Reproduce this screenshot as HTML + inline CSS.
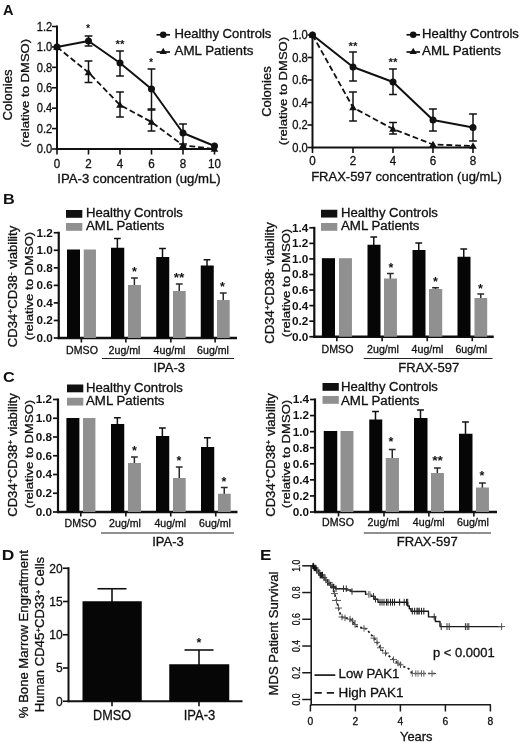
<!DOCTYPE html>
<html><head><meta charset="utf-8"><title>Figure</title>
<style>html,body{margin:0;padding:0;background:#fff;}svg{display:block;filter:blur(0.3px)}text{font-family:"Liberation Sans",sans-serif;}</style></head><body>
<svg width="520" height="743" viewBox="0 0 520 743">
<rect width="520" height="743" fill="#fff"/>
<text transform="translate(3 14.8)" font-size="14.5" text-anchor="start" font-weight="bold" fill="#111">A</text>
<line x1="57" y1="25.5" x2="57" y2="150" stroke="#111" stroke-width="2.0" stroke-linecap="butt"/>
<line x1="56" y1="149" x2="215.5" y2="149" stroke="#111" stroke-width="2.0" stroke-linecap="butt"/>
<line x1="52" y1="149.0" x2="57" y2="149.0" stroke="#111" stroke-width="1.6" stroke-linecap="butt"/>
<text transform="translate(52.3 153.32) scale(0.9300 1.0000)" font-size="12" text-anchor="end" fill="#111" stroke="#111" stroke-width="0.3">0.0</text>
<line x1="52" y1="128.58333333333331" x2="57" y2="128.58333333333331" stroke="#111" stroke-width="1.6" stroke-linecap="butt"/>
<text transform="translate(52.3 132.9033333333333) scale(0.9300 1.0000)" font-size="12" text-anchor="end" fill="#111" stroke="#111" stroke-width="0.3">0.2</text>
<line x1="52" y1="108.16666666666666" x2="57" y2="108.16666666666666" stroke="#111" stroke-width="1.6" stroke-linecap="butt"/>
<text transform="translate(52.3 112.48666666666665) scale(0.9300 1.0000)" font-size="12" text-anchor="end" fill="#111" stroke="#111" stroke-width="0.3">0.4</text>
<line x1="52" y1="87.74999999999999" x2="57" y2="87.74999999999999" stroke="#111" stroke-width="1.6" stroke-linecap="butt"/>
<text transform="translate(52.3 92.07) scale(0.9300 1.0000)" font-size="12" text-anchor="end" fill="#111" stroke="#111" stroke-width="0.3">0.6</text>
<line x1="52" y1="67.33333333333331" x2="57" y2="67.33333333333331" stroke="#111" stroke-width="1.6" stroke-linecap="butt"/>
<text transform="translate(52.3 71.65333333333331) scale(0.9300 1.0000)" font-size="12" text-anchor="end" fill="#111" stroke="#111" stroke-width="0.3">0.8</text>
<line x1="52" y1="46.91666666666666" x2="57" y2="46.91666666666666" stroke="#111" stroke-width="1.6" stroke-linecap="butt"/>
<text transform="translate(52.3 51.23666666666666) scale(0.9300 1.0000)" font-size="12" text-anchor="end" fill="#111" stroke="#111" stroke-width="0.3">1.0</text>
<line x1="52" y1="26.49999999999997" x2="57" y2="26.49999999999997" stroke="#111" stroke-width="1.6" stroke-linecap="butt"/>
<text transform="translate(52.3 30.819999999999972) scale(0.9300 1.0000)" font-size="12" text-anchor="end" fill="#111" stroke="#111" stroke-width="0.3">1.2</text>
<line x1="57" y1="149" x2="57" y2="154.5" stroke="#111" stroke-width="1.6" stroke-linecap="butt"/>
<text transform="translate(57 168) scale(0.9700 1.0000)" font-size="12" text-anchor="middle" fill="#111" stroke="#111" stroke-width="0.3">0</text>
<line x1="88.5" y1="149" x2="88.5" y2="154.5" stroke="#111" stroke-width="1.6" stroke-linecap="butt"/>
<text transform="translate(88.5 168) scale(0.9700 1.0000)" font-size="12" text-anchor="middle" fill="#111" stroke="#111" stroke-width="0.3">2</text>
<line x1="120" y1="149" x2="120" y2="154.5" stroke="#111" stroke-width="1.6" stroke-linecap="butt"/>
<text transform="translate(120 168) scale(0.9700 1.0000)" font-size="12" text-anchor="middle" fill="#111" stroke="#111" stroke-width="0.3">4</text>
<line x1="151.5" y1="149" x2="151.5" y2="154.5" stroke="#111" stroke-width="1.6" stroke-linecap="butt"/>
<text transform="translate(151.5 168) scale(0.9700 1.0000)" font-size="12" text-anchor="middle" fill="#111" stroke="#111" stroke-width="0.3">6</text>
<line x1="183" y1="149" x2="183" y2="154.5" stroke="#111" stroke-width="1.6" stroke-linecap="butt"/>
<text transform="translate(183 168) scale(0.9700 1.0000)" font-size="12" text-anchor="middle" fill="#111" stroke="#111" stroke-width="0.3">8</text>
<line x1="214.5" y1="149" x2="214.5" y2="154.5" stroke="#111" stroke-width="1.6" stroke-linecap="butt"/>
<text transform="translate(214.5 168) scale(0.9700 1.0000)" font-size="12" text-anchor="middle" fill="#111" stroke="#111" stroke-width="0.3">10</text>
<text transform="translate(139 182.7) scale(1.0960 1.0000)" font-size="12" text-anchor="middle" fill="#111" stroke="#111" stroke-width="0.3">IPA-3 concentration (ug/mL)</text>
<text transform="translate(12.4 95) rotate(-90) scale(1.0922 1.0000)" font-size="12" text-anchor="middle" fill="#111" stroke="#111" stroke-width="0.3">Colonies</text>
<text transform="translate(28.8 93) rotate(-90) scale(1.1276 1.0000)" font-size="11.6" text-anchor="middle" fill="#111" stroke="#111" stroke-width="0.3">(relative to DMSO)</text>
<line x1="88.5" y1="36" x2="88.5" y2="46" stroke="#111" stroke-width="1.5" stroke-linecap="butt"/>
<line x1="84.6" y1="36" x2="92.4" y2="36" stroke="#111" stroke-width="1.5" stroke-linecap="butt"/>
<line x1="84.6" y1="46" x2="92.4" y2="46" stroke="#111" stroke-width="1.5" stroke-linecap="butt"/>
<line x1="120" y1="51" x2="120" y2="76" stroke="#111" stroke-width="1.5" stroke-linecap="butt"/>
<line x1="116.1" y1="51" x2="123.9" y2="51" stroke="#111" stroke-width="1.5" stroke-linecap="butt"/>
<line x1="116.1" y1="76" x2="123.9" y2="76" stroke="#111" stroke-width="1.5" stroke-linecap="butt"/>
<line x1="151.5" y1="69" x2="151.5" y2="109" stroke="#111" stroke-width="1.5" stroke-linecap="butt"/>
<line x1="147.6" y1="69" x2="155.4" y2="69" stroke="#111" stroke-width="1.5" stroke-linecap="butt"/>
<line x1="147.6" y1="109" x2="155.4" y2="109" stroke="#111" stroke-width="1.5" stroke-linecap="butt"/>
<line x1="183" y1="124" x2="183" y2="144" stroke="#111" stroke-width="1.5" stroke-linecap="butt"/>
<line x1="179.1" y1="124" x2="186.9" y2="124" stroke="#111" stroke-width="1.5" stroke-linecap="butt"/>
<line x1="179.1" y1="144" x2="186.9" y2="144" stroke="#111" stroke-width="1.5" stroke-linecap="butt"/>
<line x1="88.5" y1="61" x2="88.5" y2="82.5" stroke="#111" stroke-width="1.5" stroke-linecap="butt"/>
<line x1="84.6" y1="61" x2="92.4" y2="61" stroke="#111" stroke-width="1.5" stroke-linecap="butt"/>
<line x1="84.6" y1="82.5" x2="92.4" y2="82.5" stroke="#111" stroke-width="1.5" stroke-linecap="butt"/>
<line x1="120" y1="92" x2="120" y2="117" stroke="#111" stroke-width="1.5" stroke-linecap="butt"/>
<line x1="116.1" y1="92" x2="123.9" y2="92" stroke="#111" stroke-width="1.5" stroke-linecap="butt"/>
<line x1="116.1" y1="117" x2="123.9" y2="117" stroke="#111" stroke-width="1.5" stroke-linecap="butt"/>
<line x1="151.5" y1="110" x2="151.5" y2="131" stroke="#111" stroke-width="1.5" stroke-linecap="butt"/>
<line x1="147.6" y1="110" x2="155.4" y2="110" stroke="#111" stroke-width="1.5" stroke-linecap="butt"/>
<line x1="147.6" y1="131" x2="155.4" y2="131" stroke="#111" stroke-width="1.5" stroke-linecap="butt"/>
<polyline points="57,47 88.5,41 120,63 151.5,89 183,133 214.5,146" fill="none" stroke="#111" stroke-width="2.0" stroke-linejoin="round"/>
<polyline points="57,47 88.5,72.5 120,105 151.5,122 183,145.3 214.5,149" fill="none" stroke="#111" stroke-width="1.8" stroke-dasharray="5.8,3" stroke-linejoin="round"/>
<circle cx="57" cy="47" r="3.5" fill="#111"/>
<circle cx="88.5" cy="41" r="3.5" fill="#111"/>
<circle cx="120" cy="63" r="3.5" fill="#111"/>
<circle cx="151.5" cy="89" r="3.5" fill="#111"/>
<circle cx="183" cy="133" r="3.5" fill="#111"/>
<circle cx="214.5" cy="146" r="3.5" fill="#111"/>
<polygon points="57,43.2 53.2,49.85 60.8,49.85" fill="#111"/>
<polygon points="88.5,68.7 84.7,75.35 92.3,75.35" fill="#111"/>
<polygon points="120,101.2 116.2,107.85 123.8,107.85" fill="#111"/>
<polygon points="151.5,118.2 147.7,124.85 155.3,124.85" fill="#111"/>
<polygon points="183,141.5 179.2,148.15 186.8,148.15" fill="#111"/>
<polygon points="214.5,145.2 210.7,151.85 218.3,151.85" fill="#111"/>
<text transform="translate(88 31.5375)" font-size="10.5" text-anchor="middle" font-weight="bold" fill="#111">*</text>
<text transform="translate(120 48.0375) scale(1.1000 1.0000)" font-size="10.5" text-anchor="middle" font-weight="bold" fill="#111">**</text>
<text transform="translate(151 66.33749999999999)" font-size="10.5" text-anchor="middle" font-weight="bold" fill="#111">*</text>
<line x1="156.5" y1="34.8" x2="170" y2="34.8" stroke="#111" stroke-width="1.7" stroke-linecap="butt"/>
<circle cx="163.2" cy="34.8" r="3.25" fill="#111"/>
<text transform="translate(174.5 38) scale(1.0668 1.0000)" font-size="12.3" text-anchor="start" fill="#111" stroke="#111" stroke-width="0.3">Healthy Controls</text>
<line x1="156.5" y1="52" x2="170" y2="52" stroke="#111" stroke-width="1.7" stroke-linecap="butt"/>
<polygon points="163.2,47.699999999999996 159.6,54.0 166.79999999999998,54.0" fill="#111"/>
<text transform="translate(174.5 55) scale(1.0867 1.0000)" font-size="12.3" text-anchor="start" fill="#111" stroke="#111" stroke-width="0.3">AML Patients</text>
<line x1="312.5" y1="34" x2="312.5" y2="148.5" stroke="#111" stroke-width="2.0" stroke-linecap="butt"/>
<line x1="311.5" y1="147.5" x2="474" y2="147.5" stroke="#111" stroke-width="2.0" stroke-linecap="butt"/>
<line x1="307.5" y1="147.5" x2="312.5" y2="147.5" stroke="#111" stroke-width="1.6" stroke-linecap="butt"/>
<text transform="translate(307.8 151.82) scale(0.9300 1.0000)" font-size="12" text-anchor="end" fill="#111" stroke="#111" stroke-width="0.3">0.0</text>
<line x1="307.5" y1="125.0" x2="312.5" y2="125.0" stroke="#111" stroke-width="1.6" stroke-linecap="butt"/>
<text transform="translate(307.8 129.32) scale(0.9300 1.0000)" font-size="12" text-anchor="end" fill="#111" stroke="#111" stroke-width="0.3">0.2</text>
<line x1="307.5" y1="102.5" x2="312.5" y2="102.5" stroke="#111" stroke-width="1.6" stroke-linecap="butt"/>
<text transform="translate(307.8 106.82) scale(0.9300 1.0000)" font-size="12" text-anchor="end" fill="#111" stroke="#111" stroke-width="0.3">0.4</text>
<line x1="307.5" y1="79.99999999999999" x2="312.5" y2="79.99999999999999" stroke="#111" stroke-width="1.6" stroke-linecap="butt"/>
<text transform="translate(307.8 84.32) scale(0.9300 1.0000)" font-size="12" text-anchor="end" fill="#111" stroke="#111" stroke-width="0.3">0.6</text>
<line x1="307.5" y1="57.5" x2="312.5" y2="57.5" stroke="#111" stroke-width="1.6" stroke-linecap="butt"/>
<text transform="translate(307.8 61.82) scale(0.9300 1.0000)" font-size="12" text-anchor="end" fill="#111" stroke="#111" stroke-width="0.3">0.8</text>
<line x1="307.5" y1="35.0" x2="312.5" y2="35.0" stroke="#111" stroke-width="1.6" stroke-linecap="butt"/>
<text transform="translate(307.8 39.32) scale(0.9300 1.0000)" font-size="12" text-anchor="end" fill="#111" stroke="#111" stroke-width="0.3">1.0</text>
<line x1="312.5" y1="147.5" x2="312.5" y2="153.0" stroke="#111" stroke-width="1.6" stroke-linecap="butt"/>
<text transform="translate(312.5 164.5) scale(0.9700 1.0000)" font-size="12" text-anchor="middle" fill="#111" stroke="#111" stroke-width="0.3">0</text>
<line x1="353" y1="147.5" x2="353" y2="153.0" stroke="#111" stroke-width="1.6" stroke-linecap="butt"/>
<text transform="translate(353 164.5) scale(0.9700 1.0000)" font-size="12" text-anchor="middle" fill="#111" stroke="#111" stroke-width="0.3">2</text>
<line x1="393" y1="147.5" x2="393" y2="153.0" stroke="#111" stroke-width="1.6" stroke-linecap="butt"/>
<text transform="translate(393 164.5) scale(0.9700 1.0000)" font-size="12" text-anchor="middle" fill="#111" stroke="#111" stroke-width="0.3">4</text>
<line x1="433" y1="147.5" x2="433" y2="153.0" stroke="#111" stroke-width="1.6" stroke-linecap="butt"/>
<text transform="translate(433 164.5) scale(0.9700 1.0000)" font-size="12" text-anchor="middle" fill="#111" stroke="#111" stroke-width="0.3">6</text>
<line x1="473" y1="147.5" x2="473" y2="153.0" stroke="#111" stroke-width="1.6" stroke-linecap="butt"/>
<text transform="translate(473 164.5) scale(0.9700 1.0000)" font-size="12" text-anchor="middle" fill="#111" stroke="#111" stroke-width="0.3">8</text>
<text transform="translate(406.5 180.7) scale(1.0847 1.0000)" font-size="12" text-anchor="middle" fill="#111" stroke="#111" stroke-width="0.3">FRAX-597 concentration (ug/mL)</text>
<text transform="translate(270.8 91.6) rotate(-90) scale(1.0815 1.0000)" font-size="12" text-anchor="middle" fill="#111" stroke="#111" stroke-width="0.3">Colonies</text>
<text transform="translate(287 91) rotate(-90) scale(1.1276 1.0000)" font-size="11.6" text-anchor="middle" fill="#111" stroke="#111" stroke-width="0.3">(relative to DMSO)</text>
<line x1="353" y1="52" x2="353" y2="81" stroke="#111" stroke-width="1.5" stroke-linecap="butt"/>
<line x1="349.1" y1="52" x2="356.9" y2="52" stroke="#111" stroke-width="1.5" stroke-linecap="butt"/>
<line x1="349.1" y1="81" x2="356.9" y2="81" stroke="#111" stroke-width="1.5" stroke-linecap="butt"/>
<line x1="393" y1="69" x2="393" y2="94.5" stroke="#111" stroke-width="1.5" stroke-linecap="butt"/>
<line x1="389.1" y1="69" x2="396.9" y2="69" stroke="#111" stroke-width="1.5" stroke-linecap="butt"/>
<line x1="389.1" y1="94.5" x2="396.9" y2="94.5" stroke="#111" stroke-width="1.5" stroke-linecap="butt"/>
<line x1="433" y1="109" x2="433" y2="131" stroke="#111" stroke-width="1.5" stroke-linecap="butt"/>
<line x1="429.1" y1="109" x2="436.9" y2="109" stroke="#111" stroke-width="1.5" stroke-linecap="butt"/>
<line x1="429.1" y1="131" x2="436.9" y2="131" stroke="#111" stroke-width="1.5" stroke-linecap="butt"/>
<line x1="473" y1="114" x2="473" y2="141" stroke="#111" stroke-width="1.5" stroke-linecap="butt"/>
<line x1="469.1" y1="114" x2="476.9" y2="114" stroke="#111" stroke-width="1.5" stroke-linecap="butt"/>
<line x1="469.1" y1="141" x2="476.9" y2="141" stroke="#111" stroke-width="1.5" stroke-linecap="butt"/>
<line x1="353" y1="92" x2="353" y2="121" stroke="#111" stroke-width="1.5" stroke-linecap="butt"/>
<line x1="349.1" y1="92" x2="356.9" y2="92" stroke="#111" stroke-width="1.5" stroke-linecap="butt"/>
<line x1="349.1" y1="121" x2="356.9" y2="121" stroke="#111" stroke-width="1.5" stroke-linecap="butt"/>
<line x1="393" y1="122.5" x2="393" y2="134" stroke="#111" stroke-width="1.5" stroke-linecap="butt"/>
<line x1="389.1" y1="122.5" x2="396.9" y2="122.5" stroke="#111" stroke-width="1.5" stroke-linecap="butt"/>
<line x1="389.1" y1="134" x2="396.9" y2="134" stroke="#111" stroke-width="1.5" stroke-linecap="butt"/>
<polyline points="312.5,35 353,67 393,82 433,120 473,127.5" fill="none" stroke="#111" stroke-width="2.0" stroke-linejoin="round"/>
<polyline points="312.5,35 353,107.5 393,129 433,144.5 473,146" fill="none" stroke="#111" stroke-width="1.8" stroke-dasharray="5.8,3" stroke-linejoin="round"/>
<circle cx="312.5" cy="35" r="3.5" fill="#111"/>
<circle cx="353" cy="67" r="3.5" fill="#111"/>
<circle cx="393" cy="82" r="3.5" fill="#111"/>
<circle cx="433" cy="120" r="3.5" fill="#111"/>
<circle cx="473" cy="127.5" r="3.5" fill="#111"/>
<polygon points="312.5,31.2 308.7,37.85 316.3,37.85" fill="#111"/>
<polygon points="353,103.7 349.2,110.35 356.8,110.35" fill="#111"/>
<polygon points="393,125.2 389.2,131.85 396.8,131.85" fill="#111"/>
<polygon points="433,140.7 429.2,147.35 436.8,147.35" fill="#111"/>
<polygon points="473,142.2 469.2,148.85 476.8,148.85" fill="#111"/>
<text transform="translate(353 50.0375) scale(1.1000 1.0000)" font-size="10.5" text-anchor="middle" font-weight="bold" fill="#111">**</text>
<text transform="translate(393 66.0375) scale(1.1000 1.0000)" font-size="10.5" text-anchor="middle" font-weight="bold" fill="#111">**</text>
<line x1="406.5" y1="34.8" x2="420" y2="34.8" stroke="#111" stroke-width="1.7" stroke-linecap="butt"/>
<circle cx="413.2" cy="34.8" r="3.25" fill="#111"/>
<text transform="translate(422 38) scale(1.0668 1.0000)" font-size="12.3" text-anchor="start" fill="#111" stroke="#111" stroke-width="0.3">Healthy Controls</text>
<line x1="406.5" y1="52" x2="420" y2="52" stroke="#111" stroke-width="1.7" stroke-linecap="butt"/>
<polygon points="413.2,47.699999999999996 409.59999999999997,54.0 416.8,54.0" fill="#111"/>
<text transform="translate(422 55) scale(1.0867 1.0000)" font-size="12.3" text-anchor="start" fill="#111" stroke="#111" stroke-width="0.3">AML Patients</text>
<text transform="translate(3 203.5) scale(1.1200 1.0000)" font-size="14.5" text-anchor="start" font-weight="bold" fill="#111">B</text>
<line x1="58.75" y1="231.75" x2="58.75" y2="339.1" stroke="#111" stroke-width="2.2" stroke-linecap="butt"/>
<line x1="57.65" y1="338" x2="237" y2="338" stroke="#111" stroke-width="2.3" stroke-linecap="butt"/>
<line x1="53.75" y1="338.0" x2="58.75" y2="338.0" stroke="#111" stroke-width="1.7" stroke-linecap="butt"/>
<text transform="translate(52.85 341.9) scale(1.1200 1.0000)" font-size="10.5" text-anchor="end" font-weight="bold" fill="#111">0.0</text>
<line x1="53.75" y1="320.4583333333333" x2="58.75" y2="320.4583333333333" stroke="#111" stroke-width="1.7" stroke-linecap="butt"/>
<text transform="translate(52.85 324.3583333333333) scale(1.1200 1.0000)" font-size="10.5" text-anchor="end" font-weight="bold" fill="#111">0.2</text>
<line x1="53.75" y1="302.9166666666667" x2="58.75" y2="302.9166666666667" stroke="#111" stroke-width="1.7" stroke-linecap="butt"/>
<text transform="translate(52.85 306.81666666666666) scale(1.1200 1.0000)" font-size="10.5" text-anchor="end" font-weight="bold" fill="#111">0.4</text>
<line x1="53.75" y1="285.375" x2="58.75" y2="285.375" stroke="#111" stroke-width="1.7" stroke-linecap="butt"/>
<text transform="translate(52.85 289.275) scale(1.1200 1.0000)" font-size="10.5" text-anchor="end" font-weight="bold" fill="#111">0.6</text>
<line x1="53.75" y1="267.8333333333333" x2="58.75" y2="267.8333333333333" stroke="#111" stroke-width="1.7" stroke-linecap="butt"/>
<text transform="translate(52.85 271.7333333333333) scale(1.1200 1.0000)" font-size="10.5" text-anchor="end" font-weight="bold" fill="#111">0.8</text>
<line x1="53.75" y1="250.29166666666666" x2="58.75" y2="250.29166666666666" stroke="#111" stroke-width="1.7" stroke-linecap="butt"/>
<text transform="translate(52.85 254.19166666666666) scale(1.1200 1.0000)" font-size="10.5" text-anchor="end" font-weight="bold" fill="#111">1.0</text>
<line x1="53.75" y1="232.74999999999997" x2="58.75" y2="232.74999999999997" stroke="#111" stroke-width="1.7" stroke-linecap="butt"/>
<text transform="translate(52.85 236.64999999999998) scale(1.1200 1.0000)" font-size="10.5" text-anchor="end" font-weight="bold" fill="#111">1.2</text>
<rect x="67" y="249.5" width="13.0" height="88.5" fill="#060606"/>
<rect x="83.75" y="249.5" width="12.2" height="88.5" fill="#909090"/>
<line x1="117.375" y1="238.5" x2="117.375" y2="248.75" stroke="#111" stroke-width="1.5" stroke-linecap="butt"/>
<line x1="113.975" y1="238.5" x2="120.775" y2="238.5" stroke="#111" stroke-width="1.5" stroke-linecap="butt"/>
<rect x="111" y="247.75" width="13.25" height="90.25" fill="#060606"/>
<line x1="134.375" y1="278" x2="134.375" y2="286" stroke="#2a2a2a" stroke-width="1.5" stroke-linecap="butt"/>
<line x1="130.975" y1="278" x2="137.775" y2="278" stroke="#2a2a2a" stroke-width="1.5" stroke-linecap="butt"/>
<rect x="128" y="285" width="12.95" height="53" fill="#909090"/>
<line x1="162.5" y1="248.5" x2="162.5" y2="258" stroke="#111" stroke-width="1.5" stroke-linecap="butt"/>
<line x1="159.1" y1="248.5" x2="165.9" y2="248.5" stroke="#111" stroke-width="1.5" stroke-linecap="butt"/>
<rect x="156.25" y="257" width="13.0" height="81" fill="#060606"/>
<line x1="179.25" y1="284" x2="179.25" y2="292" stroke="#2a2a2a" stroke-width="1.5" stroke-linecap="butt"/>
<line x1="175.85" y1="284" x2="182.65" y2="284" stroke="#2a2a2a" stroke-width="1.5" stroke-linecap="butt"/>
<rect x="173" y="291" width="12.7" height="47" fill="#909090"/>
<line x1="207.0" y1="259.75" x2="207.0" y2="266.5" stroke="#111" stroke-width="1.5" stroke-linecap="butt"/>
<line x1="203.6" y1="259.75" x2="210.4" y2="259.75" stroke="#111" stroke-width="1.5" stroke-linecap="butt"/>
<rect x="200.75" y="265.5" width="13.0" height="72.5" fill="#060606"/>
<line x1="223.25" y1="293" x2="223.25" y2="301" stroke="#2a2a2a" stroke-width="1.5" stroke-linecap="butt"/>
<line x1="219.85" y1="293" x2="226.65" y2="293" stroke="#2a2a2a" stroke-width="1.5" stroke-linecap="butt"/>
<rect x="217" y="300" width="12.7" height="38" fill="#909090"/>
<text transform="translate(134.5 276.1875)" font-size="12.5" text-anchor="middle" font-weight="bold" fill="#111">*</text>
<text transform="translate(179 282.4375) scale(1.1000 1.0000)" font-size="12.5" text-anchor="middle" font-weight="bold" fill="#111">**</text>
<text transform="translate(222.5 290.9375)" font-size="12.5" text-anchor="middle" font-weight="bold" fill="#111">*</text>
<line x1="81.375" y1="338" x2="81.375" y2="342.5" stroke="#111" stroke-width="1.6" stroke-linecap="butt"/>
<text transform="translate(82 353.5)" font-size="10.6" text-anchor="middle" fill="#111" stroke="#111" stroke-width="0.3">DMSO</text>
<line x1="125.875" y1="338" x2="125.875" y2="342.5" stroke="#111" stroke-width="1.6" stroke-linecap="butt"/>
<text transform="translate(124.5 353.5)" font-size="10.6" text-anchor="middle" fill="#111" stroke="#111" stroke-width="0.3">2ug/ml</text>
<line x1="170.875" y1="338" x2="170.875" y2="342.5" stroke="#111" stroke-width="1.6" stroke-linecap="butt"/>
<text transform="translate(169.5 353.5)" font-size="10.6" text-anchor="middle" fill="#111" stroke="#111" stroke-width="0.3">4ug/ml</text>
<line x1="215.125" y1="338" x2="215.125" y2="342.5" stroke="#111" stroke-width="1.6" stroke-linecap="butt"/>
<text transform="translate(213 353.5)" font-size="10.6" text-anchor="middle" fill="#111" stroke="#111" stroke-width="0.3">6ug/ml</text>
<line x1="102" y1="358.5" x2="234" y2="358.5" stroke="#222" stroke-width="1.1" stroke-linecap="butt"/>
<text transform="translate(169.2 372) scale(1.0200 1.0000)" font-size="12.8" text-anchor="middle" fill="#111" stroke="#111" stroke-width="0.3">IPA-3</text>
<rect x="66" y="210" width="16.3" height="7.8" fill="#111"/>
<rect x="66" y="223" width="16.3" height="7.8" fill="#909090"/>
<text transform="translate(86 217.2) scale(1.0668 1.0000)" font-size="12.3" text-anchor="start" fill="#111" stroke="#111" stroke-width="0.3">Healthy Controls</text>
<text transform="translate(86 230) scale(1.0798 1.0000)" font-size="12.3" text-anchor="start" fill="#111" stroke="#111" stroke-width="0.3">AML Patients</text>
<text transform="translate(16.6 286.5) rotate(-90) scale(1.0900 1.0000)" font-size="12" text-anchor="middle" fill="#111" stroke="#111" stroke-width="0.3">CD34<tspan font-size="8" dy="-3.6">+</tspan><tspan dy="3.6">CD38</tspan><tspan font-size="8" dy="-3.6">-</tspan><tspan dy="3.6"> viability</tspan></text>
<text transform="translate(33 286) rotate(-90) scale(1.1297 1.0000)" font-size="11.6" text-anchor="middle" fill="#111" stroke="#111" stroke-width="0.3">(relative to DMSO)</text>
<line x1="314.3" y1="226.8" x2="314.3" y2="337.85" stroke="#111" stroke-width="2.2" stroke-linecap="butt"/>
<line x1="313.2" y1="336.75" x2="493.75" y2="336.75" stroke="#111" stroke-width="2.3" stroke-linecap="butt"/>
<line x1="309.3" y1="336.75" x2="314.3" y2="336.75" stroke="#111" stroke-width="1.7" stroke-linecap="butt"/>
<text transform="translate(308.40000000000003 340.65) scale(1.1200 1.0000)" font-size="10.5" text-anchor="end" font-weight="bold" fill="#111">0.0</text>
<line x1="309.3" y1="321.1857142857143" x2="314.3" y2="321.1857142857143" stroke="#111" stroke-width="1.7" stroke-linecap="butt"/>
<text transform="translate(308.40000000000003 325.0857142857143) scale(1.1200 1.0000)" font-size="10.5" text-anchor="end" font-weight="bold" fill="#111">0.2</text>
<line x1="309.3" y1="305.62142857142857" x2="314.3" y2="305.62142857142857" stroke="#111" stroke-width="1.7" stroke-linecap="butt"/>
<text transform="translate(308.40000000000003 309.52142857142854) scale(1.1200 1.0000)" font-size="10.5" text-anchor="end" font-weight="bold" fill="#111">0.4</text>
<line x1="309.3" y1="290.0571428571428" x2="314.3" y2="290.0571428571428" stroke="#111" stroke-width="1.7" stroke-linecap="butt"/>
<text transform="translate(308.40000000000003 293.9571428571428) scale(1.1200 1.0000)" font-size="10.5" text-anchor="end" font-weight="bold" fill="#111">0.6</text>
<line x1="309.3" y1="274.49285714285713" x2="314.3" y2="274.49285714285713" stroke="#111" stroke-width="1.7" stroke-linecap="butt"/>
<text transform="translate(308.40000000000003 278.3928571428571) scale(1.1200 1.0000)" font-size="10.5" text-anchor="end" font-weight="bold" fill="#111">0.8</text>
<line x1="309.3" y1="258.92857142857144" x2="314.3" y2="258.92857142857144" stroke="#111" stroke-width="1.7" stroke-linecap="butt"/>
<text transform="translate(308.40000000000003 262.8285714285714) scale(1.1200 1.0000)" font-size="10.5" text-anchor="end" font-weight="bold" fill="#111">1.0</text>
<line x1="309.3" y1="243.3642857142857" x2="314.3" y2="243.3642857142857" stroke="#111" stroke-width="1.7" stroke-linecap="butt"/>
<text transform="translate(308.40000000000003 247.2642857142857) scale(1.1200 1.0000)" font-size="10.5" text-anchor="end" font-weight="bold" fill="#111">1.2</text>
<line x1="309.3" y1="227.8" x2="314.3" y2="227.8" stroke="#111" stroke-width="1.7" stroke-linecap="butt"/>
<text transform="translate(308.40000000000003 231.70000000000002) scale(1.1200 1.0000)" font-size="10.5" text-anchor="end" font-weight="bold" fill="#111">1.4</text>
<rect x="321.9" y="258.2" width="13.100000000000023" height="78.55000000000001" fill="#060606"/>
<rect x="339" y="258.2" width="12.95" height="78.55000000000001" fill="#909090"/>
<line x1="373.75" y1="237" x2="373.75" y2="245.75" stroke="#111" stroke-width="1.5" stroke-linecap="butt"/>
<line x1="370.35" y1="237" x2="377.15" y2="237" stroke="#111" stroke-width="1.5" stroke-linecap="butt"/>
<rect x="367.5" y="244.75" width="13.0" height="92.0" fill="#060606"/>
<line x1="390.375" y1="273.5" x2="390.375" y2="279.5" stroke="#2a2a2a" stroke-width="1.5" stroke-linecap="butt"/>
<line x1="386.975" y1="273.5" x2="393.775" y2="273.5" stroke="#2a2a2a" stroke-width="1.5" stroke-linecap="butt"/>
<rect x="384" y="278.5" width="12.95" height="58.25" fill="#909090"/>
<line x1="418.75" y1="243" x2="418.75" y2="251" stroke="#111" stroke-width="1.5" stroke-linecap="butt"/>
<line x1="415.35" y1="243" x2="422.15" y2="243" stroke="#111" stroke-width="1.5" stroke-linecap="butt"/>
<rect x="412.5" y="250" width="13.0" height="86.75" fill="#060606"/>
<line x1="435.5" y1="287.75" x2="435.5" y2="290" stroke="#2a2a2a" stroke-width="1.5" stroke-linecap="butt"/>
<line x1="432.1" y1="287.75" x2="438.9" y2="287.75" stroke="#2a2a2a" stroke-width="1.5" stroke-linecap="butt"/>
<rect x="429" y="289" width="13.2" height="47.75" fill="#909090"/>
<line x1="463.75" y1="249" x2="463.75" y2="257.75" stroke="#111" stroke-width="1.5" stroke-linecap="butt"/>
<line x1="460.35" y1="249" x2="467.15" y2="249" stroke="#111" stroke-width="1.5" stroke-linecap="butt"/>
<rect x="457.5" y="256.75" width="13.0" height="80.0" fill="#060606"/>
<line x1="480.75" y1="294" x2="480.75" y2="299" stroke="#2a2a2a" stroke-width="1.5" stroke-linecap="butt"/>
<line x1="477.35" y1="294" x2="484.15" y2="294" stroke="#2a2a2a" stroke-width="1.5" stroke-linecap="butt"/>
<rect x="474.5" y="298" width="12.7" height="38.75" fill="#909090"/>
<text transform="translate(391 272.1875)" font-size="12.5" text-anchor="middle" font-weight="bold" fill="#111">*</text>
<text transform="translate(435.5 286.1875)" font-size="12.5" text-anchor="middle" font-weight="bold" fill="#111">*</text>
<text transform="translate(480.5 292.6875)" font-size="12.5" text-anchor="middle" font-weight="bold" fill="#111">*</text>
<line x1="336.825" y1="336.75" x2="336.825" y2="341.25" stroke="#111" stroke-width="1.6" stroke-linecap="butt"/>
<text transform="translate(337.5 352.8)" font-size="10.6" text-anchor="middle" fill="#111" stroke="#111" stroke-width="0.3">DMSO</text>
<line x1="382.125" y1="336.75" x2="382.125" y2="341.25" stroke="#111" stroke-width="1.6" stroke-linecap="butt"/>
<text transform="translate(383 352.8)" font-size="10.6" text-anchor="middle" fill="#111" stroke="#111" stroke-width="0.3">2ug/ml</text>
<line x1="427.25" y1="336.75" x2="427.25" y2="341.25" stroke="#111" stroke-width="1.6" stroke-linecap="butt"/>
<text transform="translate(427.5 352.8)" font-size="10.6" text-anchor="middle" fill="#111" stroke="#111" stroke-width="0.3">4ug/ml</text>
<line x1="472.25" y1="336.75" x2="472.25" y2="341.25" stroke="#111" stroke-width="1.6" stroke-linecap="butt"/>
<text transform="translate(471.3 352.8)" font-size="10.6" text-anchor="middle" fill="#111" stroke="#111" stroke-width="0.3">6ug/ml</text>
<line x1="363.75" y1="358.5" x2="492.5" y2="358.5" stroke="#222" stroke-width="1.1" stroke-linecap="butt"/>
<text transform="translate(428.75 372) scale(1.0200 1.0000)" font-size="12.8" text-anchor="middle" fill="#111" stroke="#111" stroke-width="0.3">FRAX-597</text>
<rect x="321" y="209.75" width="16.3" height="7.8" fill="#111"/>
<rect x="321" y="223" width="16.3" height="7.8" fill="#909090"/>
<text transform="translate(341 216.8) scale(1.0668 1.0000)" font-size="12.3" text-anchor="start" fill="#111" stroke="#111" stroke-width="0.3">Healthy Controls</text>
<text transform="translate(341 229.8) scale(1.0798 1.0000)" font-size="12.3" text-anchor="start" fill="#111" stroke="#111" stroke-width="0.3">AML Patients</text>
<text transform="translate(274 283) rotate(-90) scale(1.0900 1.0000)" font-size="12" text-anchor="middle" fill="#111" stroke="#111" stroke-width="0.3">CD34<tspan font-size="8" dy="-3.6">+</tspan><tspan dy="3.6">CD38</tspan><tspan font-size="8" dy="-3.6">-</tspan><tspan dy="3.6"> viability</tspan></text>
<text transform="translate(290 283) rotate(-90) scale(1.1297 1.0000)" font-size="11.6" text-anchor="middle" fill="#111" stroke="#111" stroke-width="0.3">(relative to DMSO)</text>
<text transform="translate(3 381.5) scale(1.1200 1.0000)" font-size="14.5" text-anchor="start" font-weight="bold" fill="#111">C</text>
<line x1="58" y1="398.5" x2="58" y2="513.1" stroke="#111" stroke-width="2.2" stroke-linecap="butt"/>
<line x1="56.9" y1="512" x2="237.5" y2="512" stroke="#111" stroke-width="2.3" stroke-linecap="butt"/>
<line x1="53" y1="512.0" x2="58" y2="512.0" stroke="#111" stroke-width="1.7" stroke-linecap="butt"/>
<text transform="translate(52.1 515.9) scale(1.1200 1.0000)" font-size="10.5" text-anchor="end" font-weight="bold" fill="#111">0.0</text>
<line x1="53" y1="493.25" x2="58" y2="493.25" stroke="#111" stroke-width="1.7" stroke-linecap="butt"/>
<text transform="translate(52.1 497.15) scale(1.1200 1.0000)" font-size="10.5" text-anchor="end" font-weight="bold" fill="#111">0.2</text>
<line x1="53" y1="474.5" x2="58" y2="474.5" stroke="#111" stroke-width="1.7" stroke-linecap="butt"/>
<text transform="translate(52.1 478.4) scale(1.1200 1.0000)" font-size="10.5" text-anchor="end" font-weight="bold" fill="#111">0.4</text>
<line x1="53" y1="455.75" x2="58" y2="455.75" stroke="#111" stroke-width="1.7" stroke-linecap="butt"/>
<text transform="translate(52.1 459.65) scale(1.1200 1.0000)" font-size="10.5" text-anchor="end" font-weight="bold" fill="#111">0.6</text>
<line x1="53" y1="437.0" x2="58" y2="437.0" stroke="#111" stroke-width="1.7" stroke-linecap="butt"/>
<text transform="translate(52.1 440.9) scale(1.1200 1.0000)" font-size="10.5" text-anchor="end" font-weight="bold" fill="#111">0.8</text>
<line x1="53" y1="418.25" x2="58" y2="418.25" stroke="#111" stroke-width="1.7" stroke-linecap="butt"/>
<text transform="translate(52.1 422.15) scale(1.1200 1.0000)" font-size="10.5" text-anchor="end" font-weight="bold" fill="#111">1.0</text>
<line x1="53" y1="399.5" x2="58" y2="399.5" stroke="#111" stroke-width="1.7" stroke-linecap="butt"/>
<text transform="translate(52.1 403.4) scale(1.1200 1.0000)" font-size="10.5" text-anchor="end" font-weight="bold" fill="#111">1.2</text>
<rect x="66.4" y="418" width="13.0" height="94" fill="#060606"/>
<rect x="83" y="418" width="12.400000000000002" height="94" fill="#909090"/>
<line x1="117.375" y1="417.75" x2="117.375" y2="425" stroke="#111" stroke-width="1.5" stroke-linecap="butt"/>
<line x1="113.975" y1="417.75" x2="120.775" y2="417.75" stroke="#111" stroke-width="1.5" stroke-linecap="butt"/>
<rect x="111" y="424" width="13.25" height="88" fill="#060606"/>
<line x1="134.375" y1="457" x2="134.375" y2="464" stroke="#2a2a2a" stroke-width="1.5" stroke-linecap="butt"/>
<line x1="130.975" y1="457" x2="137.775" y2="457" stroke="#2a2a2a" stroke-width="1.5" stroke-linecap="butt"/>
<rect x="128" y="463" width="12.95" height="49" fill="#909090"/>
<line x1="162.375" y1="428" x2="162.375" y2="437" stroke="#111" stroke-width="1.5" stroke-linecap="butt"/>
<line x1="158.975" y1="428" x2="165.775" y2="428" stroke="#111" stroke-width="1.5" stroke-linecap="butt"/>
<rect x="156" y="436" width="13.25" height="76" fill="#060606"/>
<line x1="179.25" y1="467" x2="179.25" y2="479" stroke="#2a2a2a" stroke-width="1.5" stroke-linecap="butt"/>
<line x1="175.85" y1="467" x2="182.65" y2="467" stroke="#2a2a2a" stroke-width="1.5" stroke-linecap="butt"/>
<rect x="173" y="478" width="12.7" height="34" fill="#909090"/>
<line x1="207.375" y1="437.75" x2="207.375" y2="448" stroke="#111" stroke-width="1.5" stroke-linecap="butt"/>
<line x1="203.975" y1="437.75" x2="210.775" y2="437.75" stroke="#111" stroke-width="1.5" stroke-linecap="butt"/>
<rect x="201" y="447" width="13.25" height="65" fill="#060606"/>
<line x1="224.25" y1="487.5" x2="224.25" y2="494.75" stroke="#2a2a2a" stroke-width="1.5" stroke-linecap="butt"/>
<line x1="220.85" y1="487.5" x2="227.65" y2="487.5" stroke="#2a2a2a" stroke-width="1.5" stroke-linecap="butt"/>
<rect x="218" y="493.75" width="12.7" height="18.25" fill="#909090"/>
<text transform="translate(134.5 454.6875)" font-size="12.5" text-anchor="middle" font-weight="bold" fill="#111">*</text>
<text transform="translate(179 464.6875)" font-size="12.5" text-anchor="middle" font-weight="bold" fill="#111">*</text>
<text transform="translate(224 485.9875)" font-size="12.5" text-anchor="middle" font-weight="bold" fill="#111">*</text>
<line x1="80.80000000000001" y1="512" x2="80.80000000000001" y2="516.5" stroke="#111" stroke-width="1.6" stroke-linecap="butt"/>
<text transform="translate(80.5 526.5999999999999)" font-size="10.6" text-anchor="middle" fill="#111" stroke="#111" stroke-width="0.3">DMSO</text>
<line x1="125.875" y1="512" x2="125.875" y2="516.5" stroke="#111" stroke-width="1.6" stroke-linecap="butt"/>
<text transform="translate(125 526.5999999999999)" font-size="10.6" text-anchor="middle" fill="#111" stroke="#111" stroke-width="0.3">2ug/ml</text>
<line x1="170.75" y1="512" x2="170.75" y2="516.5" stroke="#111" stroke-width="1.6" stroke-linecap="butt"/>
<text transform="translate(170.3 526.5999999999999)" font-size="10.6" text-anchor="middle" fill="#111" stroke="#111" stroke-width="0.3">4ug/ml</text>
<line x1="215.75" y1="512" x2="215.75" y2="516.5" stroke="#111" stroke-width="1.6" stroke-linecap="butt"/>
<text transform="translate(215 526.5999999999999)" font-size="10.6" text-anchor="middle" fill="#111" stroke="#111" stroke-width="0.3">6ug/ml</text>
<line x1="101" y1="533" x2="234" y2="533" stroke="#222" stroke-width="1.1" stroke-linecap="butt"/>
<text transform="translate(168 546) scale(1.0200 1.0000)" font-size="12.8" text-anchor="middle" fill="#111" stroke="#111" stroke-width="0.3">IPA-3</text>
<rect x="67" y="384.5" width="16.3" height="7.8" fill="#111"/>
<rect x="67" y="397.75" width="16.3" height="7.8" fill="#909090"/>
<text transform="translate(86 392) scale(1.0668 1.0000)" font-size="12.3" text-anchor="start" fill="#111" stroke="#111" stroke-width="0.3">Healthy Controls</text>
<text transform="translate(86 405) scale(1.0798 1.0000)" font-size="12.3" text-anchor="start" fill="#111" stroke="#111" stroke-width="0.3">AML Patients</text>
<text transform="translate(16.6 455) rotate(-90) scale(1.0900 1.0000)" font-size="12" text-anchor="middle" fill="#111" stroke="#111" stroke-width="0.3">CD34<tspan font-size="8" dy="-3.6">+</tspan><tspan dy="3.6">CD38</tspan><tspan font-size="8" dy="-3.6">+</tspan><tspan dy="3.6"> viability</tspan></text>
<text transform="translate(33 454) rotate(-90) scale(1.1297 1.0000)" font-size="11.6" text-anchor="middle" fill="#111" stroke="#111" stroke-width="0.3">(relative to DMSO)</text>
<line x1="315" y1="398.5" x2="315" y2="513.1" stroke="#111" stroke-width="2.2" stroke-linecap="butt"/>
<line x1="313.9" y1="512" x2="497" y2="512" stroke="#111" stroke-width="2.3" stroke-linecap="butt"/>
<line x1="310" y1="512.0" x2="315" y2="512.0" stroke="#111" stroke-width="1.7" stroke-linecap="butt"/>
<text transform="translate(309.1 515.9) scale(1.1200 1.0000)" font-size="10.5" text-anchor="end" font-weight="bold" fill="#111">0.0</text>
<line x1="310" y1="495.92857142857144" x2="315" y2="495.92857142857144" stroke="#111" stroke-width="1.7" stroke-linecap="butt"/>
<text transform="translate(309.1 499.8285714285714) scale(1.1200 1.0000)" font-size="10.5" text-anchor="end" font-weight="bold" fill="#111">0.2</text>
<line x1="310" y1="479.85714285714283" x2="315" y2="479.85714285714283" stroke="#111" stroke-width="1.7" stroke-linecap="butt"/>
<text transform="translate(309.1 483.7571428571428) scale(1.1200 1.0000)" font-size="10.5" text-anchor="end" font-weight="bold" fill="#111">0.4</text>
<line x1="310" y1="463.7857142857143" x2="315" y2="463.7857142857143" stroke="#111" stroke-width="1.7" stroke-linecap="butt"/>
<text transform="translate(309.1 467.68571428571425) scale(1.1200 1.0000)" font-size="10.5" text-anchor="end" font-weight="bold" fill="#111">0.6</text>
<line x1="310" y1="447.7142857142857" x2="315" y2="447.7142857142857" stroke="#111" stroke-width="1.7" stroke-linecap="butt"/>
<text transform="translate(309.1 451.6142857142857) scale(1.1200 1.0000)" font-size="10.5" text-anchor="end" font-weight="bold" fill="#111">0.8</text>
<line x1="310" y1="431.6428571428571" x2="315" y2="431.6428571428571" stroke="#111" stroke-width="1.7" stroke-linecap="butt"/>
<text transform="translate(309.1 435.5428571428571) scale(1.1200 1.0000)" font-size="10.5" text-anchor="end" font-weight="bold" fill="#111">1.0</text>
<line x1="310" y1="415.57142857142856" x2="315" y2="415.57142857142856" stroke="#111" stroke-width="1.7" stroke-linecap="butt"/>
<text transform="translate(309.1 419.47142857142853) scale(1.1200 1.0000)" font-size="10.5" text-anchor="end" font-weight="bold" fill="#111">1.2</text>
<line x1="310" y1="399.5" x2="315" y2="399.5" stroke="#111" stroke-width="1.7" stroke-linecap="butt"/>
<text transform="translate(309.1 403.4) scale(1.1200 1.0000)" font-size="10.5" text-anchor="end" font-weight="bold" fill="#111">1.4</text>
<rect x="323.75" y="431" width="13.5" height="81" fill="#060606"/>
<rect x="340.5" y="431" width="12.95" height="81" fill="#909090"/>
<line x1="375.5" y1="411.5" x2="375.5" y2="420.5" stroke="#111" stroke-width="1.5" stroke-linecap="butt"/>
<line x1="372.1" y1="411.5" x2="378.9" y2="411.5" stroke="#111" stroke-width="1.5" stroke-linecap="butt"/>
<rect x="369.25" y="419.5" width="13.0" height="92.5" fill="#060606"/>
<line x1="392.25" y1="449.5" x2="392.25" y2="459" stroke="#2a2a2a" stroke-width="1.5" stroke-linecap="butt"/>
<line x1="388.85" y1="449.5" x2="395.65" y2="449.5" stroke="#2a2a2a" stroke-width="1.5" stroke-linecap="butt"/>
<rect x="385.75" y="458" width="13.2" height="54" fill="#909090"/>
<line x1="420.5" y1="410" x2="420.5" y2="419" stroke="#111" stroke-width="1.5" stroke-linecap="butt"/>
<line x1="417.1" y1="410" x2="423.9" y2="410" stroke="#111" stroke-width="1.5" stroke-linecap="butt"/>
<rect x="414" y="418" width="13.5" height="94" fill="#060606"/>
<line x1="437.375" y1="468" x2="437.375" y2="474" stroke="#2a2a2a" stroke-width="1.5" stroke-linecap="butt"/>
<line x1="433.975" y1="468" x2="440.775" y2="468" stroke="#2a2a2a" stroke-width="1.5" stroke-linecap="butt"/>
<rect x="431" y="473" width="12.95" height="39" fill="#909090"/>
<line x1="465.5" y1="422" x2="465.5" y2="434.75" stroke="#111" stroke-width="1.5" stroke-linecap="butt"/>
<line x1="462.1" y1="422" x2="468.9" y2="422" stroke="#111" stroke-width="1.5" stroke-linecap="butt"/>
<rect x="459" y="433.75" width="13.5" height="78.25" fill="#060606"/>
<line x1="482.375" y1="483" x2="482.375" y2="488.5" stroke="#2a2a2a" stroke-width="1.5" stroke-linecap="butt"/>
<line x1="478.975" y1="483" x2="485.775" y2="483" stroke="#2a2a2a" stroke-width="1.5" stroke-linecap="butt"/>
<rect x="476" y="487.5" width="12.95" height="24.5" fill="#909090"/>
<text transform="translate(391 446.4375)" font-size="12.5" text-anchor="middle" font-weight="bold" fill="#111">*</text>
<text transform="translate(437.5 465.1875) scale(1.1000 1.0000)" font-size="12.5" text-anchor="middle" font-weight="bold" fill="#111">**</text>
<text transform="translate(482 480.1875)" font-size="12.5" text-anchor="middle" font-weight="bold" fill="#111">*</text>
<line x1="338.5" y1="512" x2="338.5" y2="516.5" stroke="#111" stroke-width="1.6" stroke-linecap="butt"/>
<text transform="translate(338 526.0999999999999)" font-size="10.6" text-anchor="middle" fill="#111" stroke="#111" stroke-width="0.3">DMSO</text>
<line x1="384.0" y1="512" x2="384.0" y2="516.5" stroke="#111" stroke-width="1.6" stroke-linecap="butt"/>
<text transform="translate(383.5 526.0999999999999)" font-size="10.6" text-anchor="middle" fill="#111" stroke="#111" stroke-width="0.3">2ug/ml</text>
<line x1="428.875" y1="512" x2="428.875" y2="516.5" stroke="#111" stroke-width="1.6" stroke-linecap="butt"/>
<text transform="translate(428.75 526.0999999999999)" font-size="10.6" text-anchor="middle" fill="#111" stroke="#111" stroke-width="0.3">4ug/ml</text>
<line x1="473.875" y1="512" x2="473.875" y2="516.5" stroke="#111" stroke-width="1.6" stroke-linecap="butt"/>
<text transform="translate(473 526.0999999999999)" font-size="10.6" text-anchor="middle" fill="#111" stroke="#111" stroke-width="0.3">6ug/ml</text>
<line x1="363.75" y1="533" x2="491" y2="533" stroke="#222" stroke-width="1.1" stroke-linecap="butt"/>
<text transform="translate(427.2 546) scale(1.0200 1.0000)" font-size="12.8" text-anchor="middle" fill="#111" stroke="#111" stroke-width="0.3">FRAX-597</text>
<rect x="322.5" y="383" width="16.3" height="7.8" fill="#111"/>
<rect x="322.5" y="396" width="16.3" height="7.8" fill="#909090"/>
<text transform="translate(341 391) scale(1.0668 1.0000)" font-size="12.3" text-anchor="start" fill="#111" stroke="#111" stroke-width="0.3">Healthy Controls</text>
<text transform="translate(341 404.5) scale(1.0798 1.0000)" font-size="12.3" text-anchor="start" fill="#111" stroke="#111" stroke-width="0.3">AML Patients</text>
<text transform="translate(274.5 455) rotate(-90) scale(1.0900 1.0000)" font-size="12" text-anchor="middle" fill="#111" stroke="#111" stroke-width="0.3">CD34<tspan font-size="8" dy="-3.6">+</tspan><tspan dy="3.6">CD38</tspan><tspan font-size="8" dy="-3.6">+</tspan><tspan dy="3.6"> viability</tspan></text>
<text transform="translate(290.2 454) rotate(-90) scale(1.1297 1.0000)" font-size="11.6" text-anchor="middle" fill="#111" stroke="#111" stroke-width="0.3">(relative to DMSO)</text>
<text transform="translate(1.8 559.7) scale(1.1800 1.0000)" font-size="14.8" text-anchor="start" font-weight="bold" fill="#111">D</text>
<line x1="68.5" y1="567.25" x2="68.5" y2="702.25" stroke="#111" stroke-width="2.0" stroke-linecap="butt"/>
<line x1="67.5" y1="701.25" x2="242.5" y2="701.25" stroke="#111" stroke-width="2.0" stroke-linecap="butt"/>
<line x1="63.0" y1="701.25" x2="68.5" y2="701.25" stroke="#111" stroke-width="1.6" stroke-linecap="butt"/>
<text transform="translate(62.7 705.65) scale(0.9700 1.0000)" font-size="12.4" text-anchor="end" fill="#111" stroke="#111" stroke-width="0.3">0</text>
<line x1="63.0" y1="668.0" x2="68.5" y2="668.0" stroke="#111" stroke-width="1.6" stroke-linecap="butt"/>
<text transform="translate(62.7 672.4) scale(0.9700 1.0000)" font-size="12.4" text-anchor="end" fill="#111" stroke="#111" stroke-width="0.3">5</text>
<line x1="63.0" y1="634.75" x2="68.5" y2="634.75" stroke="#111" stroke-width="1.6" stroke-linecap="butt"/>
<text transform="translate(62.7 639.15) scale(0.9700 1.0000)" font-size="12.4" text-anchor="end" fill="#111" stroke="#111" stroke-width="0.3">10</text>
<line x1="63.0" y1="601.5" x2="68.5" y2="601.5" stroke="#111" stroke-width="1.6" stroke-linecap="butt"/>
<text transform="translate(62.7 605.9) scale(0.9700 1.0000)" font-size="12.4" text-anchor="end" fill="#111" stroke="#111" stroke-width="0.3">15</text>
<line x1="63.0" y1="568.25" x2="68.5" y2="568.25" stroke="#111" stroke-width="1.6" stroke-linecap="butt"/>
<text transform="translate(62.7 572.65) scale(0.9700 1.0000)" font-size="12.4" text-anchor="end" fill="#111" stroke="#111" stroke-width="0.3">20</text>
<line x1="112" y1="588.75" x2="112" y2="602" stroke="#111" stroke-width="1.6" stroke-linecap="butt"/>
<line x1="97.5" y1="588.75" x2="126.5" y2="588.75" stroke="#111" stroke-width="1.6" stroke-linecap="butt"/>
<rect x="82.5" y="601.25" width="59.25" height="100.0" fill="#060606"/>
<line x1="199" y1="650" x2="199" y2="665" stroke="#111" stroke-width="1.6" stroke-linecap="butt"/>
<line x1="184.5" y1="650" x2="213.5" y2="650" stroke="#111" stroke-width="1.6" stroke-linecap="butt"/>
<rect x="169.25" y="664.25" width="60" height="37.0" fill="#060606"/>
<text transform="translate(199 646.6875)" font-size="12.5" text-anchor="middle" font-weight="bold" fill="#111">*</text>
<line x1="112" y1="701.25" x2="112" y2="706.25" stroke="#111" stroke-width="1.6" stroke-linecap="butt"/>
<line x1="199" y1="701.25" x2="199" y2="706.25" stroke="#111" stroke-width="1.6" stroke-linecap="butt"/>
<text transform="translate(112 720) scale(0.8279 1.0000)" font-size="15.3" text-anchor="middle" fill="#111" stroke="#111" stroke-width="0.3">DMSO</text>
<text transform="translate(199.5 720) scale(0.8537 1.0000)" font-size="15.3" text-anchor="middle" fill="#111" stroke="#111" stroke-width="0.3">IPA-3</text>
<text transform="translate(27.9 634.1) rotate(-90) scale(1.0397 1.0000)" font-size="12.6" text-anchor="middle" fill="#111" stroke="#111" stroke-width="0.3">% Bone Marrow Engraftment</text>
<text transform="translate(44.4 634.5) rotate(-90) scale(1.0400 1.0000)" font-size="12.6" text-anchor="middle" fill="#111" stroke="#111" stroke-width="0.3">Human CD45<tspan font-size="8" dy="-3.6">+</tspan><tspan dy="3.6">CD33</tspan><tspan font-size="8" dy="-3.6">+</tspan><tspan dy="3.6"> Cells</tspan></text>
<text transform="translate(260 560.3) scale(1.1400 1.0000)" font-size="15" text-anchor="start" font-weight="bold" fill="#111">E</text>
<line x1="311.2" y1="565.0999999999999" x2="311.2" y2="705.5999999999999" stroke="#1a1a1a" stroke-width="1.6" stroke-linecap="butt"/>
<line x1="310.4" y1="704.8" x2="490.9" y2="704.8" stroke="#1a1a1a" stroke-width="1.6" stroke-linecap="butt"/>
<line x1="302.2" y1="699.5" x2="311.2" y2="699.5" stroke="#1a1a1a" stroke-width="1.5" stroke-linecap="butt"/>
<text transform="translate(299.6 699.5) rotate(-90) scale(0.8381 1.0000)" font-size="10.3" text-anchor="middle" fill="#111" stroke="#111" stroke-width="0.3">0.0</text>
<line x1="302.2" y1="672.76" x2="311.2" y2="672.76" stroke="#1a1a1a" stroke-width="1.5" stroke-linecap="butt"/>
<text transform="translate(299.6 672.76) rotate(-90) scale(0.8381 1.0000)" font-size="10.3" text-anchor="middle" fill="#111" stroke="#111" stroke-width="0.3">0.2</text>
<line x1="302.2" y1="646.02" x2="311.2" y2="646.02" stroke="#1a1a1a" stroke-width="1.5" stroke-linecap="butt"/>
<text transform="translate(299.6 646.02) rotate(-90) scale(0.8381 1.0000)" font-size="10.3" text-anchor="middle" fill="#111" stroke="#111" stroke-width="0.3">0.4</text>
<line x1="302.2" y1="619.28" x2="311.2" y2="619.28" stroke="#1a1a1a" stroke-width="1.5" stroke-linecap="butt"/>
<text transform="translate(299.6 619.28) rotate(-90) scale(0.8381 1.0000)" font-size="10.3" text-anchor="middle" fill="#111" stroke="#111" stroke-width="0.3">0.6</text>
<line x1="302.2" y1="592.54" x2="311.2" y2="592.54" stroke="#1a1a1a" stroke-width="1.5" stroke-linecap="butt"/>
<text transform="translate(299.6 592.54) rotate(-90) scale(0.8381 1.0000)" font-size="10.3" text-anchor="middle" fill="#111" stroke="#111" stroke-width="0.3">0.8</text>
<line x1="302.2" y1="565.8" x2="311.2" y2="565.8" stroke="#1a1a1a" stroke-width="1.5" stroke-linecap="butt"/>
<text transform="translate(299.6 565.8) rotate(-90) scale(0.8381 1.0000)" font-size="10.3" text-anchor="middle" fill="#111" stroke="#111" stroke-width="0.3">1.0</text>
<line x1="310.4" y1="704.8" x2="310.4" y2="711.5" stroke="#1a1a1a" stroke-width="1.5" stroke-linecap="butt"/>
<text transform="translate(310.4 725)" font-size="10.3" text-anchor="middle" fill="#111" stroke="#111" stroke-width="0.3">0</text>
<line x1="355.4" y1="704.8" x2="355.4" y2="711.5" stroke="#1a1a1a" stroke-width="1.5" stroke-linecap="butt"/>
<text transform="translate(355.4 725)" font-size="10.3" text-anchor="middle" fill="#111" stroke="#111" stroke-width="0.3">2</text>
<line x1="400.4" y1="704.8" x2="400.4" y2="711.5" stroke="#1a1a1a" stroke-width="1.5" stroke-linecap="butt"/>
<text transform="translate(400.4 725)" font-size="10.3" text-anchor="middle" fill="#111" stroke="#111" stroke-width="0.3">4</text>
<line x1="445.4" y1="704.8" x2="445.4" y2="711.5" stroke="#1a1a1a" stroke-width="1.5" stroke-linecap="butt"/>
<text transform="translate(445.4 725)" font-size="10.3" text-anchor="middle" fill="#111" stroke="#111" stroke-width="0.3">6</text>
<line x1="490.4" y1="704.8" x2="490.4" y2="711.5" stroke="#1a1a1a" stroke-width="1.5" stroke-linecap="butt"/>
<text transform="translate(490.4 725)" font-size="10.3" text-anchor="middle" fill="#111" stroke="#111" stroke-width="0.3">8</text>
<text transform="translate(416.2 740.6) scale(1.0315 1.0000)" font-size="12.5" text-anchor="middle" fill="#111" stroke="#111" stroke-width="0.3">Years</text>
<text transform="translate(278.2 633.5) rotate(-90) scale(1.0500 1.0000)" font-size="12.5" text-anchor="middle" fill="#111" stroke="#111" stroke-width="0.3">MDS Patient Survival</text>
<line x1="314.5" y1="675.1" x2="335.3" y2="675.1" stroke="#1a1a1a" stroke-width="1.7" stroke-linecap="butt"/>
<text transform="translate(338.5 678.3) scale(1.0535 1.0000)" font-size="12.6" text-anchor="start" fill="#111" stroke="#111" stroke-width="0.3">Low PAK1</text>
<line x1="314.5" y1="692.8" x2="335.5" y2="692.8" stroke="#1a1a1a" stroke-width="1.8" stroke-dasharray="7.3,5" stroke-linecap="butt"/>
<text transform="translate(338.5 696.8) scale(1.0708 1.0000)" font-size="12.6" text-anchor="start" fill="#111" stroke="#111" stroke-width="0.3">High PAK1</text>
<text transform="translate(433 657) scale(1.0382 1.0000)" font-size="12.5" text-anchor="start" fill="#111" stroke="#111" stroke-width="0.3">p &lt; 0.0001</text>
<polyline points="312.7,565.6 314,566.5 314,568 316,568 316,570.5 318,570.5 318,572.5 320,572.5 320,575 322.5,575 322.5,577.5 325,577.5 325,580 327.5,580 327.5,582.5 330,582.5 330,585 332.5,585 332.5,587 335.8,587 335.8,588.7 346.3,588.7 346.3,590 351,590 351,591.5 365.6,591.5 365.6,594.4 368.5,594.4 371,594.4 371,596.3 374,596.3 374,599.2 378,599.2 378,602.2 407.7,602.2 407.7,606 409.3,606 409.3,608.8 411,608.8 411,611.2 428.5,611.2 428.5,616.9 435.4,616.9 435.4,621.5 440,621.5 440,626.6 502.3,626.6" fill="none" stroke="#1a1a1a" stroke-width="1.4" stroke-linejoin="round"/>
<polyline points="312.7,565.6 315,568.5 317,571 319,573.5 322,577 325,580 328,583 331,586.5 333.8,591.5 335.3,596 336.7,601.2 338.7,608.8 340.6,615.6 342.5,617.5 349.2,618.5 353,621.3 356,626.2 362.7,628 366.5,629 371.3,634.8 375.2,639.6 379,645.4 382,650.2 386.7,654 392.5,658.8 397.3,662.7 403,666.5 406,667.5 408.8,668.8 412.3,673.5 436.5,673.5" fill="none" stroke="#1a1a1a" stroke-width="1.7" stroke-dasharray="2.2,2.4" stroke-linejoin="round"/>
<line x1="313.3" y1="562.8153846153846" x2="313.3" y2="569.2153846153847" stroke="#333" stroke-width="1.0" stroke-linecap="butt"/>
<line x1="311.1" y1="566.0153846153846" x2="315.5" y2="566.0153846153846" stroke="#333" stroke-width="1.0" stroke-linecap="butt"/>
<line x1="314.2" y1="564.8" x2="314.2" y2="571.2" stroke="#666" stroke-width="1.0" stroke-linecap="butt"/>
<line x1="311.0" y1="568.0" x2="317.4" y2="568.0" stroke="#666" stroke-width="1.0" stroke-linecap="butt"/>
<line x1="315" y1="564.8" x2="315" y2="571.2" stroke="#222" stroke-width="1.0" stroke-linecap="butt"/>
<line x1="312.8" y1="568.0" x2="317.2" y2="568.0" stroke="#222" stroke-width="1.0" stroke-linecap="butt"/>
<line x1="315.8" y1="564.8" x2="315.8" y2="571.2" stroke="#555" stroke-width="1.0" stroke-linecap="butt"/>
<line x1="312.6" y1="568.0" x2="319.0" y2="568.0" stroke="#555" stroke-width="1.0" stroke-linecap="butt"/>
<line x1="316.6" y1="567.3" x2="316.6" y2="573.7" stroke="#333" stroke-width="1.0" stroke-linecap="butt"/>
<line x1="314.40000000000003" y1="570.5" x2="318.8" y2="570.5" stroke="#333" stroke-width="1.0" stroke-linecap="butt"/>
<line x1="317.5" y1="567.3" x2="317.5" y2="573.7" stroke="#666" stroke-width="1.0" stroke-linecap="butt"/>
<line x1="314.3" y1="570.5" x2="320.7" y2="570.5" stroke="#666" stroke-width="1.0" stroke-linecap="butt"/>
<line x1="318.5" y1="569.3" x2="318.5" y2="575.7" stroke="#222" stroke-width="1.0" stroke-linecap="butt"/>
<line x1="316.3" y1="572.5" x2="320.7" y2="572.5" stroke="#222" stroke-width="1.0" stroke-linecap="butt"/>
<line x1="319.5" y1="569.3" x2="319.5" y2="575.7" stroke="#555" stroke-width="1.0" stroke-linecap="butt"/>
<line x1="316.3" y1="572.5" x2="322.7" y2="572.5" stroke="#555" stroke-width="1.0" stroke-linecap="butt"/>
<line x1="320.5" y1="571.8" x2="320.5" y2="578.2" stroke="#333" stroke-width="1.0" stroke-linecap="butt"/>
<line x1="318.3" y1="575.0" x2="322.7" y2="575.0" stroke="#333" stroke-width="1.0" stroke-linecap="butt"/>
<line x1="321.5" y1="571.8" x2="321.5" y2="578.2" stroke="#666" stroke-width="1.0" stroke-linecap="butt"/>
<line x1="318.3" y1="575.0" x2="324.7" y2="575.0" stroke="#666" stroke-width="1.0" stroke-linecap="butt"/>
<line x1="322.5" y1="571.8" x2="322.5" y2="578.2" stroke="#222" stroke-width="1.0" stroke-linecap="butt"/>
<line x1="320.3" y1="575.0" x2="324.7" y2="575.0" stroke="#222" stroke-width="1.0" stroke-linecap="butt"/>
<line x1="323.7" y1="574.3" x2="323.7" y2="580.7" stroke="#555" stroke-width="1.0" stroke-linecap="butt"/>
<line x1="320.5" y1="577.5" x2="326.9" y2="577.5" stroke="#555" stroke-width="1.0" stroke-linecap="butt"/>
<line x1="325" y1="574.3" x2="325" y2="580.7" stroke="#333" stroke-width="1.0" stroke-linecap="butt"/>
<line x1="322.8" y1="577.5" x2="327.2" y2="577.5" stroke="#333" stroke-width="1.0" stroke-linecap="butt"/>
<line x1="326.3" y1="576.8" x2="326.3" y2="583.2" stroke="#666" stroke-width="1.0" stroke-linecap="butt"/>
<line x1="323.1" y1="580.0" x2="329.5" y2="580.0" stroke="#666" stroke-width="1.0" stroke-linecap="butt"/>
<line x1="327.6" y1="579.3" x2="327.6" y2="585.7" stroke="#222" stroke-width="1.0" stroke-linecap="butt"/>
<line x1="325.40000000000003" y1="582.5" x2="329.8" y2="582.5" stroke="#222" stroke-width="1.0" stroke-linecap="butt"/>
<line x1="329" y1="579.3" x2="329" y2="585.7" stroke="#555" stroke-width="1.0" stroke-linecap="butt"/>
<line x1="325.8" y1="582.5" x2="332.2" y2="582.5" stroke="#555" stroke-width="1.0" stroke-linecap="butt"/>
<line x1="330.5" y1="581.8" x2="330.5" y2="588.2" stroke="#333" stroke-width="1.0" stroke-linecap="butt"/>
<line x1="328.3" y1="585.0" x2="332.7" y2="585.0" stroke="#333" stroke-width="1.0" stroke-linecap="butt"/>
<line x1="332" y1="581.8" x2="332" y2="588.2" stroke="#666" stroke-width="1.0" stroke-linecap="butt"/>
<line x1="328.8" y1="585.0" x2="335.2" y2="585.0" stroke="#666" stroke-width="1.0" stroke-linecap="butt"/>
<line x1="333.5" y1="583.8" x2="333.5" y2="590.2" stroke="#222" stroke-width="1.0" stroke-linecap="butt"/>
<line x1="331.3" y1="587.0" x2="335.7" y2="587.0" stroke="#222" stroke-width="1.0" stroke-linecap="butt"/>
<line x1="313.0" y1="563.3076923076924" x2="313.0" y2="568.9076923076923" stroke="#111" stroke-width="1.2" stroke-linecap="butt"/>
<line x1="311.8" y1="566.1076923076923" x2="314.2" y2="566.1076923076923" stroke="#111" stroke-width="1.2" stroke-linecap="butt"/>
<line x1="313.6" y1="563.723076923077" x2="313.6" y2="569.3230769230769" stroke="#111" stroke-width="1.2" stroke-linecap="butt"/>
<line x1="312.40000000000003" y1="566.5230769230769" x2="314.8" y2="566.5230769230769" stroke="#111" stroke-width="1.2" stroke-linecap="butt"/>
<line x1="314.4" y1="565.5" x2="314.4" y2="571.0999999999999" stroke="#111" stroke-width="1.2" stroke-linecap="butt"/>
<line x1="313.2" y1="568.3" x2="315.59999999999997" y2="568.3" stroke="#111" stroke-width="1.2" stroke-linecap="butt"/>
<line x1="315.2" y1="565.5" x2="315.2" y2="571.0999999999999" stroke="#111" stroke-width="1.2" stroke-linecap="butt"/>
<line x1="314.0" y1="568.3" x2="316.4" y2="568.3" stroke="#111" stroke-width="1.2" stroke-linecap="butt"/>
<line x1="316.0" y1="565.5" x2="316.0" y2="571.0999999999999" stroke="#111" stroke-width="1.2" stroke-linecap="butt"/>
<line x1="314.8" y1="568.3" x2="317.2" y2="568.3" stroke="#111" stroke-width="1.2" stroke-linecap="butt"/>
<line x1="320.2" y1="572.3" x2="320.2" y2="578.3" stroke="#1a1a1a" stroke-width="1.2" stroke-linecap="butt"/>
<line x1="321.2" y1="572.3" x2="321.2" y2="578.3" stroke="#1a1a1a" stroke-width="1.2" stroke-linecap="butt"/>
<line x1="322.2" y1="572.3" x2="322.2" y2="578.3" stroke="#1a1a1a" stroke-width="1.2" stroke-linecap="butt"/>
<line x1="336" y1="585.4000000000001" x2="336" y2="592.0" stroke="#333" stroke-width="1.0" stroke-linecap="butt"/>
<line x1="332.5" y1="588.7" x2="339.5" y2="588.7" stroke="#333" stroke-width="1.0" stroke-linecap="butt"/>
<line x1="343.5" y1="585.4000000000001" x2="343.5" y2="592.0" stroke="#333" stroke-width="1.0" stroke-linecap="butt"/>
<line x1="341.0" y1="588.7" x2="346.0" y2="588.7" stroke="#333" stroke-width="1.0" stroke-linecap="butt"/>
<line x1="346.3" y1="585.4000000000001" x2="346.3" y2="592.0" stroke="#333" stroke-width="1.0" stroke-linecap="butt"/>
<line x1="344.3" y1="588.7" x2="348.3" y2="588.7" stroke="#333" stroke-width="1.0" stroke-linecap="butt"/>
<line x1="352" y1="588.2" x2="352" y2="594.8" stroke="#333" stroke-width="1.0" stroke-linecap="butt"/>
<line x1="349.5" y1="591.5" x2="354.5" y2="591.5" stroke="#333" stroke-width="1.0" stroke-linecap="butt"/>
<line x1="368.5" y1="591.1" x2="368.5" y2="597.6999999999999" stroke="#888" stroke-width="1.1" stroke-linecap="butt"/>
<line x1="366.5" y1="594.4" x2="370.5" y2="594.4" stroke="#888" stroke-width="1.1" stroke-linecap="butt"/>
<line x1="370" y1="591.1" x2="370" y2="597.6999999999999" stroke="#888" stroke-width="1.1" stroke-linecap="butt"/>
<line x1="368" y1="594.4" x2="372" y2="594.4" stroke="#888" stroke-width="1.1" stroke-linecap="butt"/>
<line x1="373.5" y1="593.0" x2="373.5" y2="599.5999999999999" stroke="#333" stroke-width="1.0" stroke-linecap="butt"/>
<line x1="372.0" y1="596.3" x2="375.0" y2="596.3" stroke="#333" stroke-width="1.0" stroke-linecap="butt"/>
<line x1="375.5" y1="595.9000000000001" x2="375.5" y2="602.5" stroke="#333" stroke-width="1.0" stroke-linecap="butt"/>
<line x1="374.0" y1="599.2" x2="377.0" y2="599.2" stroke="#333" stroke-width="1.0" stroke-linecap="butt"/>
<line x1="380" y1="598.8000000000001" x2="380" y2="605.6" stroke="#222" stroke-width="1.0" stroke-linecap="butt"/>
<line x1="382" y1="598.8000000000001" x2="382" y2="605.6" stroke="#222" stroke-width="1.0" stroke-linecap="butt"/>
<line x1="384" y1="598.8000000000001" x2="384" y2="605.6" stroke="#222" stroke-width="1.0" stroke-linecap="butt"/>
<line x1="386.5" y1="598.8000000000001" x2="386.5" y2="605.6" stroke="#222" stroke-width="1.0" stroke-linecap="butt"/>
<line x1="388" y1="598.8000000000001" x2="388" y2="605.6" stroke="#222" stroke-width="1.0" stroke-linecap="butt"/>
<line x1="390.5" y1="598.8000000000001" x2="390.5" y2="605.6" stroke="#222" stroke-width="1.0" stroke-linecap="butt"/>
<line x1="392.5" y1="598.8000000000001" x2="392.5" y2="605.6" stroke="#222" stroke-width="1.0" stroke-linecap="butt"/>
<line x1="394.5" y1="598.8000000000001" x2="394.5" y2="605.6" stroke="#222" stroke-width="1.0" stroke-linecap="butt"/>
<line x1="399.6" y1="598.8000000000001" x2="399.6" y2="605.6" stroke="#222" stroke-width="1.0" stroke-linecap="butt"/>
<line x1="404.2" y1="598.8000000000001" x2="404.2" y2="605.6" stroke="#222" stroke-width="1.0" stroke-linecap="butt"/>
<line x1="406.5" y1="598.8000000000001" x2="406.5" y2="605.6" stroke="#222" stroke-width="1.0" stroke-linecap="butt"/>
<line x1="407.7" y1="598.8000000000001" x2="407.7" y2="605.6" stroke="#222" stroke-width="1.0" stroke-linecap="butt"/>
<line x1="412.3" y1="607.8000000000001" x2="412.3" y2="614.6" stroke="#222" stroke-width="1.1" stroke-linecap="butt"/>
<line x1="414.6" y1="607.8000000000001" x2="414.6" y2="614.6" stroke="#222" stroke-width="1.1" stroke-linecap="butt"/>
<line x1="417" y1="607.8000000000001" x2="417" y2="614.6" stroke="#222" stroke-width="1.1" stroke-linecap="butt"/>
<line x1="418" y1="607.8000000000001" x2="418" y2="614.6" stroke="#222" stroke-width="1.1" stroke-linecap="butt"/>
<line x1="419.2" y1="607.8000000000001" x2="419.2" y2="614.6" stroke="#222" stroke-width="1.1" stroke-linecap="butt"/>
<line x1="421.5" y1="607.8000000000001" x2="421.5" y2="614.6" stroke="#222" stroke-width="1.1" stroke-linecap="butt"/>
<line x1="423.8" y1="607.8000000000001" x2="423.8" y2="614.6" stroke="#222" stroke-width="1.1" stroke-linecap="butt"/>
<line x1="434.2" y1="613.5" x2="434.2" y2="620.3" stroke="#333" stroke-width="1.0" stroke-linecap="butt"/>
<line x1="431.7" y1="616.9" x2="436.7" y2="616.9" stroke="#333" stroke-width="1.0" stroke-linecap="butt"/>
<line x1="441.2" y1="623.2" x2="441.2" y2="630.0" stroke="#333" stroke-width="1.0" stroke-linecap="butt"/>
<line x1="447" y1="623.2" x2="447" y2="630.0" stroke="#333" stroke-width="1.0" stroke-linecap="butt"/>
<line x1="449.2" y1="623.2" x2="449.2" y2="630.0" stroke="#333" stroke-width="1.0" stroke-linecap="butt"/>
<line x1="465.4" y1="623.2" x2="465.4" y2="630.0" stroke="#333" stroke-width="1.0" stroke-linecap="butt"/>
<line x1="467.2" y1="623.2" x2="467.2" y2="630.0" stroke="#333" stroke-width="1.0" stroke-linecap="butt"/>
<line x1="468.8" y1="623.2" x2="468.8" y2="630.0" stroke="#333" stroke-width="1.0" stroke-linecap="butt"/>
<line x1="501.6" y1="623.2" x2="501.6" y2="630.0" stroke="#555" stroke-width="1.0" stroke-linecap="butt"/>
<line x1="498.1" y1="626.6" x2="505.1" y2="626.6" stroke="#555" stroke-width="1.0" stroke-linecap="butt"/>
<line x1="334.5" y1="590.3999999999999" x2="334.5" y2="596.8" stroke="#555" stroke-width="1.0" stroke-linecap="butt"/>
<line x1="331.0" y1="593.5999999999999" x2="338.0" y2="593.5999999999999" stroke="#555" stroke-width="1.0" stroke-linecap="butt"/>
<line x1="336.5" y1="597.2571428571429" x2="336.5" y2="603.657142857143" stroke="#555" stroke-width="1.0" stroke-linecap="butt"/>
<line x1="332.0" y1="600.4571428571429" x2="341.0" y2="600.4571428571429" stroke="#555" stroke-width="1.0" stroke-linecap="butt"/>
<line x1="338.5" y1="604.8399999999999" x2="338.5" y2="611.24" stroke="#555" stroke-width="1.0" stroke-linecap="butt"/>
<line x1="335.0" y1="608.04" x2="342.0" y2="608.04" stroke="#555" stroke-width="1.0" stroke-linecap="butt"/>
<line x1="342" y1="613.8" x2="342" y2="620.2" stroke="#555" stroke-width="1.0" stroke-linecap="butt"/>
<line x1="338.5" y1="617.0" x2="345.5" y2="617.0" stroke="#555" stroke-width="1.0" stroke-linecap="butt"/>
<line x1="345" y1="614.6731343283582" x2="345" y2="621.0731343283583" stroke="#555" stroke-width="1.0" stroke-linecap="butt"/>
<line x1="342" y1="617.8731343283582" x2="348" y2="617.8731343283582" stroke="#555" stroke-width="1.0" stroke-linecap="butt"/>
<line x1="350" y1="615.8894736842104" x2="350" y2="622.2894736842105" stroke="#555" stroke-width="1.0" stroke-linecap="butt"/>
<line x1="346.5" y1="619.0894736842105" x2="353.5" y2="619.0894736842105" stroke="#555" stroke-width="1.0" stroke-linecap="butt"/>
<line x1="352.5" y1="617.7315789473683" x2="352.5" y2="624.1315789473684" stroke="#555" stroke-width="1.0" stroke-linecap="butt"/>
<line x1="349.0" y1="620.9315789473684" x2="356.0" y2="620.9315789473684" stroke="#555" stroke-width="1.0" stroke-linecap="butt"/>
<line x1="355" y1="621.3666666666667" x2="355" y2="627.7666666666668" stroke="#555" stroke-width="1.0" stroke-linecap="butt"/>
<line x1="352" y1="624.5666666666667" x2="358" y2="624.5666666666667" stroke="#555" stroke-width="1.0" stroke-linecap="butt"/>
<line x1="364" y1="625.1421052631579" x2="364" y2="631.542105263158" stroke="#555" stroke-width="1.0" stroke-linecap="butt"/>
<line x1="360.5" y1="628.3421052631579" x2="367.5" y2="628.3421052631579" stroke="#555" stroke-width="1.0" stroke-linecap="butt"/>
<line x1="374" y1="634.9230769230769" x2="374" y2="641.323076923077" stroke="#555" stroke-width="1.0" stroke-linecap="butt"/>
<line x1="370.5" y1="638.123076923077" x2="377.5" y2="638.123076923077" stroke="#555" stroke-width="1.0" stroke-linecap="butt"/>
<line x1="377" y1="639.1473684210526" x2="377" y2="645.5473684210527" stroke="#555" stroke-width="1.0" stroke-linecap="butt"/>
<line x1="374" y1="642.3473684210527" x2="380" y2="642.3473684210527" stroke="#555" stroke-width="1.0" stroke-linecap="butt"/>
<line x1="380.5" y1="644.5999999999999" x2="380.5" y2="651.0" stroke="#555" stroke-width="1.0" stroke-linecap="butt"/>
<line x1="377.0" y1="647.8" x2="384.0" y2="647.8" stroke="#555" stroke-width="1.0" stroke-linecap="butt"/>
<line x1="385.5" y1="649.8297872340426" x2="385.5" y2="656.2297872340426" stroke="#555" stroke-width="1.0" stroke-linecap="butt"/>
<line x1="382.0" y1="653.0297872340426" x2="389.0" y2="653.0297872340426" stroke="#555" stroke-width="1.0" stroke-linecap="butt"/>
<line x1="393.5" y1="656.4124999999999" x2="393.5" y2="662.8125" stroke="#555" stroke-width="1.0" stroke-linecap="butt"/>
<line x1="390.0" y1="659.6125" x2="397.0" y2="659.6125" stroke="#555" stroke-width="1.0" stroke-linecap="butt"/>
<line x1="398" y1="659.9666666666667" x2="398" y2="666.3666666666668" stroke="#555" stroke-width="1.0" stroke-linecap="butt"/>
<line x1="394.5" y1="663.1666666666667" x2="401.5" y2="663.1666666666667" stroke="#555" stroke-width="1.0" stroke-linecap="butt"/>
<line x1="400.5" y1="661.6333333333333" x2="400.5" y2="668.0333333333334" stroke="#555" stroke-width="1.0" stroke-linecap="butt"/>
<line x1="397.5" y1="664.8333333333334" x2="403.5" y2="664.8333333333334" stroke="#555" stroke-width="1.0" stroke-linecap="butt"/>
<line x1="412.3" y1="670.3" x2="412.3" y2="676.7" stroke="#666" stroke-width="1.0" stroke-linecap="butt"/>
<line x1="410.5" y1="673.5" x2="414.1" y2="673.5" stroke="#666" stroke-width="1.0" stroke-linecap="butt"/>
<line x1="415.8" y1="670.3" x2="415.8" y2="676.7" stroke="#666" stroke-width="1.0" stroke-linecap="butt"/>
<line x1="414.0" y1="673.5" x2="417.6" y2="673.5" stroke="#666" stroke-width="1.0" stroke-linecap="butt"/>
<line x1="418" y1="670.3" x2="418" y2="676.7" stroke="#666" stroke-width="1.0" stroke-linecap="butt"/>
<line x1="416.2" y1="673.5" x2="419.8" y2="673.5" stroke="#666" stroke-width="1.0" stroke-linecap="butt"/>
<line x1="421.5" y1="670.3" x2="421.5" y2="676.7" stroke="#666" stroke-width="1.0" stroke-linecap="butt"/>
<line x1="419.7" y1="673.5" x2="423.3" y2="673.5" stroke="#666" stroke-width="1.0" stroke-linecap="butt"/>
<line x1="423.8" y1="670.3" x2="423.8" y2="676.7" stroke="#666" stroke-width="1.0" stroke-linecap="butt"/>
<line x1="422.0" y1="673.5" x2="425.6" y2="673.5" stroke="#666" stroke-width="1.0" stroke-linecap="butt"/>
<line x1="432" y1="670.3" x2="432" y2="676.7" stroke="#555" stroke-width="1.0" stroke-linecap="butt"/>
<line x1="428" y1="673.5" x2="436" y2="673.5" stroke="#555" stroke-width="1.0" stroke-linecap="butt"/>
</svg></body></html>
